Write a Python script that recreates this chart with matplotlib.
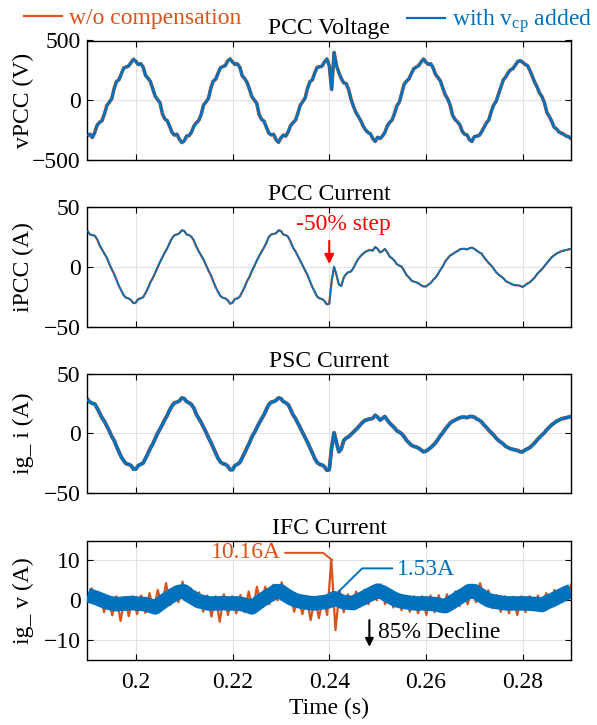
import numpy as np
import matplotlib
matplotlib.use("Agg")
import matplotlib.pyplot as plt
from matplotlib.lines import Line2D

# ---------------- data ----------------
t_start, t_stop = 0.19, 0.29
t_fine = np.round(np.arange(0, 201) * 0.0005 + t_start, 5)    # 0.5 ms sample grid

v_pcc = [-298,-284,-312,-270,-208,-185,-171,-115,-45,-17, 11,96,157,171,222,270,278,287,315,343,
         326,298,306,278,208,185,157,96,34,6, -22,-115,-157,-171,-219,-270,-292,-284,-326,-354,
         -340,-300,-296,-268,-216,-190,-170,-120,-40,-15, 15,100,160,175,225,272,282,290,330,345,
         320,300,305,275,205,182,150,92,30,2, -25,-120,-160,-175,-225,-275,-290,-285,-330,-352,
         -315,-292,-300,-265,-212,-188,-168,-110,-42,-12, 18,98,155,170,228,275,280,285,320,345,
         290,90,400,290,230,180,145,140,90,10, -50,-100,-135,-170,-215,-248,-270,-280,-320,-345,
         -310,-320,-300,-270,-215,-185,-165,-110,-45,-15, 60,135,160,180,225,265,278,290,320,345,
         318,300,305,270,215,190,160,100,45,10, -40,-125,-160,-180,-205,-260,-285,-290,-330,-345,
         -305,-300,-295,-265,-228,-190,-165,-95,-40,-10, 50,110,170,195,230,255,265,295,325,330,
         318,300,290,250,200,150,110,60,30,-20, -100,-135,-175,-225,-240,-265,-275,-285,-300,-305,
         -320]
v_pcc_wo = v_pcc
v_pcc_cp = v_pcc

i_pcc = [30,27,26.5,26,23,18,14.5,11,7.5,2.5, -2,-6,-11,-16,-20,-24,-26,-26.5,-28,-30.5,
         -30,-27,-26.5,-25.5,-22,-18,-13,-9.5,-5,-0.5, 4,8,12,15.5,20,24,26.5,27,28,30.5,
         30,27,26.5,25,22,17,13,9.5,6,1.5, -3,-7,-12,-17,-21,-24.5,-26,-26.5,-28,-31,
         -30,-27,-26.5,-25,-21,-17,-12,-8.5,-3.5,0.5, 5,9,12.5,16,20,25,27,27.5,28,30.5,
         30,27,26.5,25,21,16,13,9,5,1, -3,-7,-12,-17,-21,-25,-26.5,-27,-28.5,-31.5,
         -31,-12,0,-7,-15,-16,-9,-6,-4.5,-4, -1,3,6.5,9,11,12.5,13.5,14,13.5,16.5,
         15,12,13,15,12,8.5,7,5,2,1, 0,-3.5,-7,-9,-11.5,-12.5,-13,-14,-15.5,-16.5,
         -16.5,-15,-13.5,-11,-9,-6,-2.5,0.5,4.5,7, 9.5,10.5,12,13,14.5,15,15,14.5,15.5,16,
         15,13.5,12,11,8,5.5,3,1,-1.5,-4.5, -6.5,-8,-9.5,-12,-13,-14,-15,-15.5,-15.5,-16,
         -17,-15.5,-14,-13,-11,-9,-6,-4,-2,0.5, 3,5.5,8,9.5,11,12,13,13.5,14,14.5,
         15]
i_pcc_wo = i_pcc
i_pcc_cp = i_pcc

ig_i = [28.5,26,25,24.5,21,17,13,10,6,2, -2.5,-6,-11,-15.5,-20,-23,-25.5,-26,-27,-30,
        -30,-27,-26,-25,-21,-17,-12.5,-9,-4.5,0, 3.5,7.5,11.5,15,19.5,23,25.5,26,27,29.5,
        29,26.5,25.5,24,21,16,12.5,9,5,1, -3.5,-7.5,-12,-16.5,-21,-24,-25.5,-26,-27.5,-30.5,
        -30.5,-27,-26,-24.5,-20.5,-16.5,-12,-8,-3,0.5, 4.5,8.5,12,15.5,20,24,26,26.5,27.5,29.5,
        29,26.5,25.5,24,20,15.5,12.5,8.5,4.5,0.5, -3.5,-7.5,-12,-16.5,-21,-24.5,-26,-26.5,-28,-31,
        -30.5,-12,0.5,-8,-15.5,-13,-6,-4,-3,-1, 1,3,5,7.5,9.5,11,11.5,12,12.5,15,
        13.5,11,12.5,14,11,8.5,6.5,4.5,2,1, -0.5,-3,-6,-8,-10,-11,-11.5,-12.5,-14,-15.5,
        -15,-13.5,-12,-10,-8,-5,-2,0.5,3.5,6, 8.5,10,11,12,13,13.5,13.5,13,14,14,
        13.5,12,11,9.5,7,5,2.5,0.5,-1.5,-4, -6,-7.5,-9,-11,-12,-13,-13.5,-14,-14.5,-15.5,
        -15.5,-14,-13,-12,-10,-8,-5.5,-3.5,-1.5,0.5, 3,5,7,8.5,10,11,12,12.5,13,13.5,
        14]
ig_i_wo = ig_i
ig_i_cp = ig_i

# IFC current without compensation: ripple extrema on a 0.855 ms grid
t_ripple = np.linspace(t_start, t_stop, 118)
ig_v_wo = [0.5,3.0,-0.8,1.5,-3.0,0.8,-3.8,1.0,-5.2,0.8, -4.0,1.0,-3.5,1.2,-3.2,1.8,-2.8,2.6,-1.5,4.3,
           -1.2,3.4,-0.5,4.7,0.5,3.0,-1.5,2.0,-2.9,1.2, -4.1,1.0,-5.4,1.5,-3.7,1.0,-3.3,1.3,-3.0,2.2,
           -2.4,3.4,-1.6,3.4,-1.0,3.9,0.0,4.5,-0.5,2.5, -2.9,1.0,-3.5,0.9,-5.0,0.8,-4.5,1.0,-3.7,10.16,
           -7.5,2.5,-3.0,1.5,-2.0,2.2,-1.6,2.6,-1.0,3.4, 0.0,4.0,-1.0,2.5,-1.8,1.3,-2.5,1.0,-2.9,1.0,
           -3.3,1.0,-3.7,1.2,-3.0,1.3,-2.5,1.5,-2.0,2.2, -1.5,2.6,-1.0,3.0,-0.5,4.3,-0.5,2.5,-2.0,1.3,
           -2.9,1.0,-3.3,0.9,-3.7,1.0,-3.0,1.0,-2.5,1.2, -2.2,1.8,-1.5,2.6,-0.5,3.0,0.5,3.9]

# IFC current with v_cp added: band centre on a 1 ms grid
t_coarse = np.round(np.arange(0, 101) * 0.001 + t_start, 4)
ig_v_cp = [1.3,0.9,0.5,0,-0.5,-0.8,-1.0,-0.9,-0.8,-0.7, -0.8,-0.9,-1.0,-1.4,-1.8,-0.9,0,0.8,1.5,2.1,
           2.2,1.2,0.5,-0.2,-0.5,-0.8,-0.8,-0.8,-0.7,-0.8, -0.8,-0.8,-1.0,-1.3,-1.8,-0.9,0,0.8,1.5,2.3,
           2.2,1.3,0.6,0,-0.3,-0.5,-0.7,-0.8,-0.6,-0.5, -0.2,0.5,0,-0.5,-0.6,-0.7,0,0.5,1.2,1.8,
           2.4,2.0,1.3,0.6,0,-0.3,-0.5,-0.7,-0.8,-0.8, -0.8,-0.9,-1.0,-1.3,-1.5,-0.8,0,0.8,1.5,2.3,
           2.3,1.5,0.7,0,-0.3,-0.5,-0.7,-0.8,-0.8,-0.8, -0.8,-0.8,-0.9,-1.0,-1.2,-0.5,0,0.6,1.2,1.8,
           2.3]

titles = ["PCC Voltage", "PCC Current", "PSC Current", "IFC Current"]
ylabels = ["vPCC (V)", "iPCC (A)", "ig_ i (A)", "ig_ v (A)"]
ylims = [(-500, 500), (-50, 50), (-50, 50), (-15, 15)]
yticks = [[-500, 0, 500], [-50, 0, 50], [-50, 0, 50], [-10, 0, 10]]
xticks = [0.2, 0.22, 0.24, 0.26, 0.28]
xticklabels = ["0.2", "0.22", "0.24", "0.26", "0.28"]
legend_labels = ["w/o compensation", "with v$_{\\rm cp}$ added"]

# ---------------- style ----------------
ORANGE = "#D95319"
BLUE = "#0072BD"
plt.rcParams.update({
    "font.family": ["Liberation Serif", "DejaVu Serif"],
    "font.size": 17,
    "mathtext.fontset": "custom",
    "mathtext.rm": "Liberation Serif",
    "mathtext.it": "Liberation Serif:italic",
    "axes.linewidth": 1.0,
})

W, H = 597, 725
fig = plt.figure(figsize=(W / 100, H / 100), dpi=100)
left_px, right_px = 87.5, 571
tops_px = [40.5, 207, 373.5, 540.5]
ax_h = 119.5
axes = []
for top in tops_px:
    ax = fig.add_axes([left_px / W, 1 - (top + ax_h) / H, (right_px - left_px) / W, ax_h / H])
    axes.append(ax)

series = [
    (t_fine, v_pcc_wo, t_fine, v_pcc_cp, 2.6, 2.0),
    (t_fine, i_pcc_wo, t_fine, i_pcc_cp, 1.6, 1.2),
    (t_fine, ig_i_wo, t_fine, ig_i_cp, 2.8, 2.3),
    (t_ripple, ig_v_wo, t_coarse, ig_v_cp, 1.6, 10.5),
]

for ax, (tw, yw, tc, yc, lw_w, lw_c), ttl, yl, lim, yt in zip(axes, series, titles, ylabels, ylims, yticks):
    ax.plot(tw, yw, color=ORANGE, lw=lw_w, solid_joinstyle="round", zorder=2)
    ax.plot(tc, yc, color=BLUE, lw=lw_c, solid_joinstyle="round", solid_capstyle="butt", zorder=3)
    ax.set_xlim(t_start, t_stop)
    ax.set_ylim(*lim)
    ax.set_yticks(yt)
    ax.set_xticks(xticks)
    ax.grid(True, color="#e3e3e3", lw=0.8)
    ax.set_axisbelow(True)
    ax.tick_params(direction="in", top=True, right=True, length=4, width=0.8,
                   labelsize=17, pad=5)
    ax.tick_params(axis="x", pad=9)
    ax.set_title(ttl, fontsize=17, pad=5)
    ax.set_ylabel(yl, fontsize=17)
    ax.yaxis.set_label_coords(-0.11, 0.5)
    if ax is not axes[-1]:
        ax.set_xticklabels([])
    else:
        ax.set_xticklabels(xticklabels)
        ax.set_xlabel("Time (s)", fontsize=17, labelpad=3)

# annotations
ax2 = axes[1]
ax2.annotate("", xy=(0.24, 0), xytext=(0.24, 24),
             arrowprops=dict(arrowstyle="-|>", color="red", lw=1.5, mutation_scale=14))
ax2.text(0.243, 35, "-50% step", color="red", ha="center", va="center", fontsize=17)

ax4 = axes[3]
ax4.plot([0.2309, 0.2387, 0.2406], [11.9, 11.9, 10.1], color=ORANGE, lw=1.4, zorder=4)
ax4.text(0.2300, 11.9, "10.16A", color=ORANGE, ha="right", va="center", fontsize=17)
ax4.plot([0.2530, 0.2468, 0.2418], [8.0, 8.0, 2.0], color=BLUE, lw=1.4, zorder=4)
ax4.text(0.2539, 7.7, "1.53A", color=BLUE, ha="left", va="center", fontsize=17)
ax4.annotate("", xy=(0.2483, -12.4), xytext=(0.2483, -4.3),
             arrowprops=dict(arrowstyle="-|>", color="black", lw=1.5, mutation_scale=12))
ax4.text(0.2501, -8.2, "85% Decline", color="black", ha="left", va="center", fontsize=17)

# legends
h1 = Line2D([], [], color=ORANGE, lw=1.6)
h2 = Line2D([], [], color=BLUE, lw=1.6)
fig.legend([h1], [legend_labels[0]], loc="upper left", bbox_to_anchor=(0.02, 1.006),
           frameon=False, handlelength=1.6, handletextpad=0.3, labelcolor=ORANGE,
           fontsize=17, borderaxespad=0.1)
fig.legend([h2], [legend_labels[1]], loc="upper right", bbox_to_anchor=(1.012, 1.006),
           frameon=False, handlelength=1.6, handletextpad=0.3, labelcolor=BLUE,
           fontsize=17, borderaxespad=0.1)

fig.savefig("out.png", dpi=100)
